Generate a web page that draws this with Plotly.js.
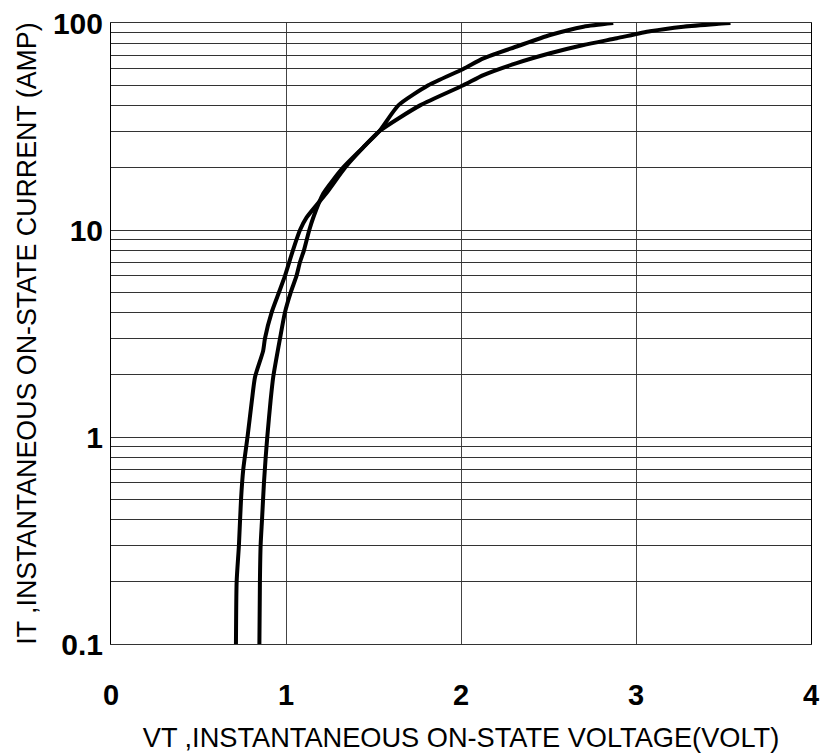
<!DOCTYPE html>
<html>
<head>
<meta charset="utf-8">
<script src="https://cdn.plot.ly/plotly-3.0.1.min.js"></script>
<style>html,body{margin:0;padding:0;background:#fff;}#chart{width:827px;height:756px;}</style>
</head>
<body>
<div id="chart"></div>
<script>
// Curve A (lower voltage at low current, reaches 100 A first)
const curveA_V = [0.714, 0.718, 0.731, 0.743, 0.756, 0.780, 0.805, 0.823, 0.869, 0.880, 0.918, 0.960, 0.994, 1.040, 1.080, 1.118, 1.229, 1.337, 1.440, 1.533, 1.642, 1.813, 2.013, 2.128, 2.318, 2.509, 2.700, 2.870];
const curveA_I = [0.1, 0.2, 0.3, 0.5, 0.7, 1.0, 1.5, 1.95, 2.6, 3, 4, 5, 6, 8, 10, 11.5, 15, 20, 25, 30, 40, 50, 60, 67.5, 77, 87.5, 96, 100];
// Curve B
const curveB_V = [0.848, 0.851, 0.855, 0.863, 0.874, 0.884, 0.893, 0.912, 0.927, 0.966, 0.994, 1.027, 1.060, 1.080, 1.103, 1.133, 1.156, 1.213, 1.326, 1.440, 1.533, 1.766, 2.013, 2.128, 2.318, 2.509, 2.700, 2.890, 3.080, 3.270, 3.460, 3.540];
const curveB_I = [0.1, 0.2, 0.3, 0.4, 0.6, 0.8, 1.0, 1.5, 1.95, 3, 4, 5, 6, 7, 8, 10, 11.5, 15, 20, 25, 30, 40, 50, 56, 64, 71.4, 78.3, 84.4, 91.2, 96, 99, 100];

const xTickVals = [0, 1, 2, 3, 4];
const xTickText = ["0", "1", "2", "3", "4"];
const yTickVals = [0.1, 0.2, 0.3, 0.4, 0.5, 0.6, 0.7, 0.8, 0.9, 1, 2, 3, 4, 5, 6, 7, 8, 9, 10, 20, 30, 40, 50, 60, 70, 80, 90, 100];
const yTickText = ["0.1", "", "", "", "", "", "", "", "", "1", "", "", "", "", "", "", "", "", "10", "", "", "", "", "", "", "", "", "100"];

const xTitle = "VT ,INSTANTANEOUS ON-STATE VOLTAGE(VOLT)";
const yTitle = "IT ,INSTANTANEOUS ON-STATE CURRENT (AMP)";

const lineStyle = {color: "#000", width: 4, shape: "spline", smoothing: 0.6};
const traces = [
  {x: curveA_V, y: curveA_I, mode: "lines", line: lineStyle, showlegend: false, hoverinfo: "skip"},
  {x: curveB_V, y: curveB_I, mode: "lines", line: lineStyle, showlegend: false, hoverinfo: "skip"}
];

const layout = {
  width: 827, height: 756,
  margin: {l: 111, r: 16, t: 23, b: 112},
  paper_bgcolor: "#fff", plot_bgcolor: "#fff",
  font: {family: "Liberation Sans, Arial, sans-serif", color: "#000"},
  xaxis: {
    range: [0, 4], tickmode: "array", tickvals: xTickVals, ticktext: xTickText,
    showgrid: true, gridcolor: "#444", gridwidth: 1, zeroline: false,
    showline: true, linecolor: "#333", linewidth: 1, mirror: true,
    ticks: "", ticklabelstandoff: 25,
    tickfont: {family: "Liberation Sans, Arial, sans-serif", size: 29, weight: 700, color: "#000"},
    title: {text: xTitle, standoff: 18, font: {family: "Liberation Sans, Arial, sans-serif", size: 27.2, color: "#000"}},
    automargin: false
  },
  yaxis: {
    type: "log", range: [-1, 2], tickmode: "array", tickvals: yTickVals, ticktext: yTickText,
    showgrid: true, gridcolor: "#333", gridwidth: 1, zeroline: false,
    showline: true, linecolor: "#000", linewidth: 1, mirror: true,
    ticks: "", ticklabelstandoff: 1,
    tickfont: {family: "Liberation Sans, Arial, sans-serif", size: 30, weight: 700, color: "#000"},
    title: {text: yTitle, standoff: 8, font: {family: "Liberation Sans, Arial, sans-serif", size: 26.8, color: "#000"}},
    automargin: false
  }
};

Plotly.newPlot("chart", traces, layout, {staticPlot: true, displayModeBar: false});
</script>
</body>
</html>
